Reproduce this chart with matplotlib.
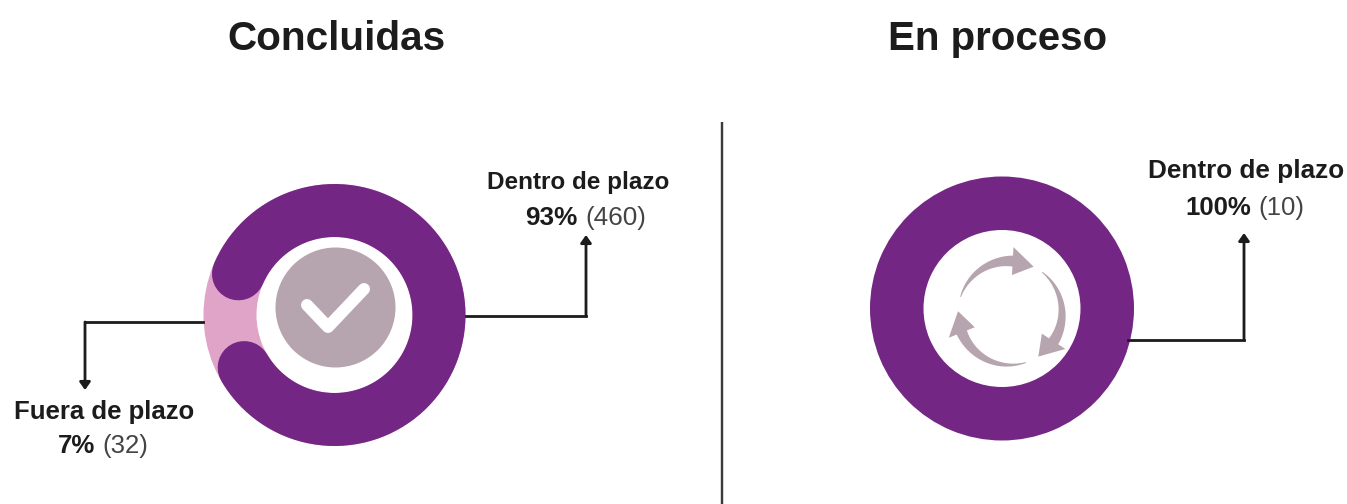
"""
Donut charts: tareas concluidas / en proceso, dentro y fuera de plazo
"""
import matplotlib.pyplot as plt
import numpy as np

plt.rcParams['font.family'] = ['Liberation Sans', 'DejaVu Sans']

panel_titles = ['Concluidas', 'En proceso']
done_labels = ['Dentro de plazo', 'Fuera de plazo']
done_counts = [460, 32]
done_percents = [93, 7]
open_label = 'Dentro de plazo'
open_count = 10
open_percent = 100

PURPLE = '#732683'
PINK = '#dfa4c8'
GREY = '#b6a5af'
DARK = '#1c1c1c'
TEXT_GREY = '#444444'
PX = 0.72  # one pixel in points at dpi=100


def ring(ax, cx, cy, outer, inner, color):
    ax.pie([1], radius=outer, center=(cx, cy), colors=[color],
           wedgeprops=dict(width=outer - inner, linewidth=0), frame=False)


def leader(ax, start, corner, tip):
    ax.plot([start[0], corner[0]], [start[1], corner[1]], color=DARK, lw=2.8 * PX,
            solid_capstyle='projecting')
    ax.annotate('', xy=tip, xytext=corner,
                arrowprops=dict(arrowstyle='-|>,head_length=0.45,head_width=0.32', color=DARK,
                                lw=2.8 * PX, shrinkA=0, shrinkB=0))


def label(ax, x, y_name, y_value, split, name, percent, count, size, value_size):
    ax.text(x, y_name, name, ha='center', va='center', fontsize=size, fontweight='bold', color=DARK)
    ax.text(split - 3, y_value, f'{percent}%', ha='right', va='center', fontsize=value_size,
            fontweight='bold', color=DARK)
    ax.text(split + 4, y_value, f'({count})', ha='left', va='center', fontsize=value_size, color=TEXT_GREY)


def cycle_arrow(ax, cx, cy, radius, tail, tip):
    # tapered arc running clockwise from tail to tip, angles in degrees
    neck = tip + 24
    t = np.radians(np.linspace(tail, neck, 40))
    w = np.linspace(0.4, 5.5, 40)
    xs = np.r_[cx + (radius + w) * np.cos(t), cx + (radius + 14) * np.cos(np.radians(neck)),
               cx + radius * np.cos(np.radians(tip)), cx + (radius - 14) * np.cos(np.radians(neck)),
               (cx + (radius - w) * np.cos(t))[::-1]]
    ys = np.r_[cy + (radius + w) * np.sin(t), cy + (radius + 14) * np.sin(np.radians(neck)),
               cy + radius * np.sin(np.radians(tip)), cy + (radius - 14) * np.sin(np.radians(neck)),
               (cy + (radius - w) * np.sin(t))[::-1]]
    ax.fill(xs, ys, color=GREY, lw=0)


fig = plt.figure(figsize=(13.47, 5.04), dpi=100)
ax = fig.add_axes([0, 0, 1, 1])

# left donut (y axis runs upward, so heights are 504 - pixel row)
cx, cy = 334.5, 504 - 315
ring(ax, cx, cy, 131, 78, PINK)

gap = 360 * done_counts[1] / sum(done_counts)
cap_inset = 15
mid = 183.5
theta = np.radians(np.linspace(mid - gap / 2 - cap_inset, mid + gap / 2 + cap_inset - 360, 300))
ax.plot(cx + 104.5 * np.cos(theta), cy + 104.5 * np.sin(theta), color=PURPLE, lw=53 * PX,
        solid_capstyle='round')

# check badge
badge = plt.Circle((335.5, 504 - 307.5), 60, color=GREY, lw=0, zorder=3)
ax.add_patch(badge)
ax.plot([307, 328, 364], [504 - 305, 504 - 327, 504 - 289], color='white', lw=12 * PX,
        solid_capstyle='round', solid_joinstyle='round', zorder=4)

leader(ax, (466, 504 - 316), (586, 504 - 316), (586, 504 - 235))
leader(ax, (203, 504 - 322), (85, 504 - 322), (85, 504 - 390))

# right donut
cx2, cy2 = 1002, 504 - 308.5
ring(ax, cx2, cy2, 132, 78.5, PURPLE)
for tail, tip in [(162, 63), (52, -57), (-72, -182)]:
    cycle_arrow(ax, 1010, 504 - 313, 52, tail, tip)

leader(ax, (1128, 504 - 340), (1244, 504 - 340), (1244, 504 - 233))

# divider
ax.plot([722, 722], [504 - 122, 0], color='#3a3a3a', lw=2.4 * PX, solid_capstyle='butt')

# texts
ax.text(336, 504 - 39, panel_titles[0], ha='center', va='center', fontsize=29.2,
        fontweight='bold', color=DARK)
ax.text(998, 504 - 39, panel_titles[1], ha='center', va='center', fontsize=29,
        fontweight='bold', color=DARK)
label(ax, 578.5, 504 - 182, 504 - 218, 581, done_labels[0], done_percents[0], done_counts[0], 17.5, 18.8)
label(ax, 104, 504 - 412, 504 - 446, 98, done_labels[1], done_percents[1], done_counts[1], 18.5, 18.5)
label(ax, 1246.5, 504 - 171, 504 - 208, 1254, open_label, open_percent, open_count, 18.8, 18.5)

ax.set_xlim(0, 1347)
ax.set_ylim(0, 504)
ax.set_aspect('equal')
ax.axis('off')

plt.savefig('out.png', dpi=100, facecolor='white')
plt.close()
